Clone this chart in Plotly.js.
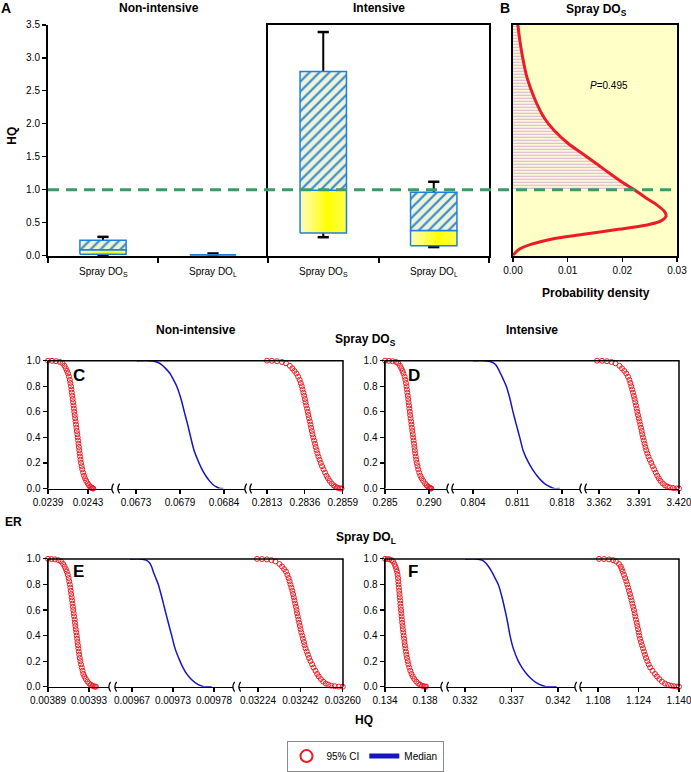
<!DOCTYPE html>
<html><head><meta charset="utf-8">
<script src="https://cdn.plot.ly/plotly-3.0.1.min.js"></script>
<style>html,body{margin:0;padding:0;background:#fff}#chart{width:691px;height:772px}</style>
</head><body><div id="chart"></div>
<script>
// ---------------- Panel A : HQ box plots ----------------
const boxLabels = ['Spray DO<sub>S</sub>', 'Spray DO<sub>L</sub>'];
const nonIntMin = [0.01, 0.006];
const nonIntQ1  = [0.02, 0.008];
const nonIntMed = [0.09, 0.015];
const nonIntQ3  = [0.235, 0.026];
const nonIntMax = [0.285, 0.033];
const intMin = [0.28, 0.13];
const intQ1  = [0.345, 0.15];
const intMed = [0.99, 0.38];
const intQ3  = [2.79, 0.96];
const intMax = [3.39, 1.12];
const hqThreshold = 1.0;

// ---------------- Panel B : probability density of HQ (Spray DOs, intensive) ----------------
const densHQ = [0, 0.025, 0.10, 0.175, 0.25, 0.32, 0.40, 0.46, 0.52, 0.60, 0.67, 0.77, 0.87, 1.0, 1.10, 1.30, 1.50, 1.70, 1.90, 2.09, 2.39, 2.69, 2.99, 3.29, 3.5];
const densPD = [0, 0.0002, 0.0012, 0.0034, 0.0070, 0.0126, 0.0193, 0.0242, 0.0269, 0.0280, 0.0277, 0.0263, 0.0244, 0.0222, 0.0202, 0.0168, 0.0135, 0.0101, 0.0075, 0.0057, 0.0039, 0.0026, 0.0018, 0.0012, 0.0009];
const pText = '<i>P</i>=0.495';

// ---------------- Panels C-F : exceedance risk curves ----------------
const erCI = [1, 0.999, 0.996, 0.99, 0.98, 0.96, 0.94, 0.92, 0.9, 0.875, 0.85, 0.825, 0.8, 0.775, 0.75, 0.725, 0.7, 0.675, 0.65, 0.625, 0.6, 0.575, 0.55, 0.525, 0.5, 0.475, 0.45, 0.425, 0.4, 0.375, 0.35, 0.325, 0.3, 0.275, 0.25, 0.225, 0.2, 0.175, 0.15, 0.125, 0.1, 0.08, 0.06, 0.04, 0.025, 0.015, 0.008, 0.004, 0.001, 0];
const erMed = [1, 1, 0.99, 0.97, 0.94, 0.9, 0.85, 0.8, 0.7, 0.6, 0.5, 0.4, 0.3, 0.2, 0.15, 0.1, 0.06, 0.03, 0.01, 0, 0];

const cLowCI = [0.023900,0.023940,0.023980,0.024020,0.024045,0.024065,0.024078,0.024090,0.024100,0.024110,
 0.024118,0.024124,0.024130,0.024134,0.024138,0.024143,0.024147,0.024151,0.024155,0.024159,
 0.024163,0.024167,0.024171,0.024176,0.024180,0.024184,0.024188,0.024193,0.024197,0.024201,
 0.024205,0.024209,0.024213,0.024217,0.024221,0.024225,0.024230,0.024236,0.024243,0.024251,
 0.024260,0.024270,0.024282,0.024297,0.024310,0.024322,0.024332,0.024340,0.024348,0.024353];
const cMedian = [0.067309,0.067475,0.067559,0.067619,0.067669,0.067725,0.067769,0.067809,0.067863,0.067904,0.067946,0.067984,0.068025,0.068088,0.068125,0.068171,0.068219,0.068263,0.068313,0.068350,0.068391];
const cUpCI = [0.28130,0.28160,0.28191,0.28221,0.28245,0.28269,0.28284,0.28296,0.28309,0.28319,
 0.28328,0.28335,0.28341,0.28346,0.28351,0.28356,0.28360,0.28364,0.28368,0.28373,
 0.28377,0.28381,0.28385,0.28390,0.28394,0.28398,0.28402,0.28406,0.28411,0.28416,
 0.28421,0.28425,0.28431,0.28436,0.28442,0.28449,0.28456,0.28464,0.28473,0.28482,
 0.28491,0.28500,0.28510,0.28522,0.28534,0.28545,0.28554,0.28563,0.28574,0.28582];

const dLowCI = [0.28500,0.28545,0.28585,0.28625,0.28650,0.28670,0.28685,0.28699,0.28710,0.28722,
 0.28731,0.28738,0.28744,0.28749,0.28753,0.28759,0.28764,0.28768,0.28773,0.28777,
 0.28782,0.28786,0.28791,0.28797,0.28801,0.28806,0.28810,0.28816,0.28820,0.28825,
 0.28830,0.28834,0.28839,0.28843,0.28849,0.28855,0.28861,0.28869,0.28878,0.28889,
 0.28901,0.28916,0.28934,0.28955,0.28973,0.28989,0.29002,0.29011,0.29020,0.29026];
const dMedian = [0.80400,0.80589,0.80691,0.80754,0.80793,0.80833,0.80880,0.80924,0.80982,0.81029,0.81081,0.81135,0.81187,0.81276,0.81336,0.81407,0.81478,0.81548,0.81627,0.81674,0.81764];
const dUpCI = [3.36055,3.36418,3.36780,3.37106,3.37396,3.37686,3.37868,3.38034,3.38179,3.38303,
 3.38404,3.38477,3.38542,3.38607,3.38665,3.38723,3.38781,3.38832,3.38883,3.38933,
 3.38977,3.39028,3.39078,3.39136,3.39194,3.39245,3.39296,3.39339,3.39390,3.39448,
 3.39506,3.39564,3.39629,3.39702,3.39782,3.39883,3.39992,3.40093,3.40202,3.40311,
 3.40427,3.40536,3.40659,3.40826,3.40985,3.41166,3.41348,3.41565,3.41819,3.42000];

const eLowCI = [0.0038900,0.0038934,0.0038968,0.0039002,0.0039027,0.0039048,0.0039062,0.0039074,0.0039083,0.0039093,
 0.0039101,0.0039107,0.0039113,0.0039118,0.0039122,0.0039127,0.0039131,0.0039135,0.0039139,0.0039143,
 0.0039147,0.0039151,0.0039155,0.0039160,0.0039163,0.0039167,0.0039171,0.0039176,0.0039180,0.0039184,
 0.0039188,0.0039192,0.0039196,0.0039200,0.0039205,0.0039210,0.0039216,0.0039222,0.0039229,0.0039237,
 0.0039244,0.0039255,0.0039269,0.0039285,0.0039302,0.0039318,0.0039331,0.0039344,0.0039357,0.0039368];
const eMedian = [0.0096673,0.0096814,0.0096888,0.0096935,0.0096962,0.0096986,0.0097019,0.0097053,0.0097100,0.0097143,0.0097187,0.0097233,0.0097277,0.0097344,0.0097384,0.0097434,0.0097491,0.0097552,0.0097612,0.0097666,0.0097769];
const eUpCI = [0.032236,0.032257,0.032278,0.032297,0.032314,0.032331,0.032342,0.032351,0.032359,0.032365,
 0.032370,0.032374,0.032378,0.032382,0.032386,0.032389,0.032392,0.032395,0.032398,0.032401,
 0.032404,0.032406,0.032409,0.032412,0.032415,0.032418,0.032421,0.032424,0.032428,0.032431,
 0.032435,0.032438,0.032442,0.032447,0.032452,0.032457,0.032463,0.032470,0.032476,0.032484,
 0.032491,0.032498,0.032507,0.032517,0.032528,0.032539,0.032551,0.032566,0.032583,0.032600];

const fLowCI = [0.13400,0.13425,0.13445,0.13465,0.13480,0.13495,0.13505,0.13513,0.13520,0.13526,
 0.13530,0.13533,0.13536,0.13539,0.13542,0.13545,0.13548,0.13551,0.13554,0.13557,
 0.13560,0.13563,0.13566,0.13569,0.13572,0.13576,0.13579,0.13583,0.13587,0.13591,
 0.13595,0.13599,0.13604,0.13609,0.13614,0.13620,0.13627,0.13634,0.13643,0.13653,
 0.13665,0.13678,0.13693,0.13713,0.13733,0.13752,0.13770,0.13785,0.13800,0.13810];
const fMedian = [0.33200,0.33318,0.33383,0.33420,0.33453,0.33487,0.33523,0.33558,0.33598,0.33630,0.33659,0.33684,0.33719,0.33773,0.33813,0.33863,0.33915,0.33969,0.34028,0.34071,0.34186];
const fUpCI = [1.10840,1.11037,1.11235,1.11393,1.11511,1.11630,1.11701,1.11740,1.11776,1.11827,
 1.11874,1.11918,1.11957,1.11993,1.12028,1.12064,1.12096,1.12127,1.12159,1.12190,
 1.12222,1.12250,1.12277,1.12301,1.12329,1.12356,1.12384,1.12408,1.12431,1.12463,
 1.12499,1.12538,1.12578,1.12617,1.12657,1.12700,1.12747,1.12803,1.12862,1.12953,
 1.13052,1.13131,1.13221,1.13328,1.13447,1.13565,1.13684,1.13802,1.13921,1.14000];

// tick values / labels for the broken x axes
const cTickVals = [[0.0239, 0.0243], [0.0673, 0.06785, 0.0684], [0.2813, 0.2836, 0.2859]];
const cTickText = [['0.0239', '0.0243'], ['0.0673', '0.0679', '0.0684'], ['0.2813', '0.2836', '0.2859']];
const dTickVals = [[0.285, 0.290], [0.804, 0.811, 0.818], [3.362, 3.391, 3.420]];
const dTickText = [['0.285', '0.290'], ['0.804', '0.811', '0.818'], ['3.362', '3.391', '3.420']];
const eTickVals = [[0.00389, 0.00393], [0.00967, 0.009725, 0.00978], [0.03224, 0.03242, 0.03260]];
const eTickText = [['0.00389', '0.00393'], ['0.00967', '0.00973', '0.00978'], ['0.03224', '0.03242', '0.03260']];
const fTickVals = [[0.134, 0.138], [0.332, 0.337, 0.342], [1.108, 1.124, 1.140]];
const fTickText = [['0.134', '0.138'], ['0.332', '0.337', '0.342'], ['1.108', '1.124', '1.140']];

// ---------------- drawing ----------------
const W = 691, H = 772;
const fx = v => v / W, fy = v => 1 - v / H;
const FONT = "Arial, 'Liberation Sans', sans-serif";
const RED = 'rgb(236,28,36)', BLUE_LINE = 'rgb(22,22,190)', BOX_BLUE = '#1f7fe0';
const data = [], shapes = [], annotations = [];
const layout = {
  width: W, height: H, margin: {l: 0, r: 0, t: 0, b: 0},
  paper_bgcolor: '#fff', plot_bgcolor: 'rgba(0,0,0,0)',
  font: {family: FONT, size: 10, color: '#000'},
  showlegend: true,
  legend: {orientation: 'h', x: fx(365), y: fy(763), xanchor: 'center', yanchor: 'middle',
    bordercolor: '#8a8a8a', borderwidth: 1, bgcolor: '#fff', font: {size: 10}, itemsizing: 'constant'},
};

// Panel A axes: ticks on category boundaries, labels at the box centres
const yA = {range: [0, 3.5], dtick: 0.5, tick0: 0, tickformat: '.1f', showgrid: false, zeroline: false,
  showline: true, linecolor: '#000', linewidth: 2, ticks: 'outside', ticklen: 4, tickwidth: 1.5, tickcolor: '#000',
  domain: [fy(258), fy(25)], tickfont: {size: 10}};
const xA = {range: [0, 2], tickvals: [0, 1, 2], ticks: 'outside', ticklen: 5, tickwidth: 2, tickcolor: '#000',
  showticklabels: false, showgrid: false, zeroline: false, showline: true, linecolor: '#000', linewidth: 2};
layout.xaxis = Object.assign({}, xA, {domain: [fx(48), fx(268)], anchor: 'y'});
layout.yaxis = Object.assign({}, yA, {anchor: 'x'});
layout.xaxis2 = Object.assign({}, xA, {domain: [fx(268), fx(489)], anchor: 'y2', mirror: true});
layout.yaxis2 = Object.assign({}, yA, {anchor: 'x2', mirror: true, showticklabels: false, ticks: ''});

function addBoxes(xa, ya, mins, q1, med, q3, maxs) {
  const pos = [0.5, 1.5], hw = 0.21;
  const wx = [], wy = [], cx = [], cy = [];
  pos.forEach((p, i) => {
    wx.push(p, p, null, p, p, null); wy.push(q3[i], maxs[i], null, q1[i], mins[i], null);
    cx.push(p, p); cy.push(maxs[i], mins[i]);
    annotations.push({text: boxLabels[i], x: p, xref: xa, y: fy(274), yref: 'paper', showarrow: false,
      xanchor: 'center', yanchor: 'middle', font: {size: 10}});
  });
  data.push({type: 'scatter', mode: 'lines', x: wx, y: wy, xaxis: xa, yaxis: ya,
    line: {color: '#000', width: 2}, showlegend: false, hoverinfo: 'skip'});
  data.push({type: 'scatter', mode: 'markers', x: cx, y: cy, xaxis: xa, yaxis: ya, cliponaxis: false,
    marker: {symbol: 'line-ew', size: 8, color: '#000', line: {color: '#000', width: 2.5}}, showlegend: false, hoverinfo: 'skip'});
  pos.forEach((p, i) => {
    data.push({type: 'scatter', mode: 'lines', xaxis: xa, yaxis: ya, showlegend: false, hoverinfo: 'skip',
      x: [p - hw, p + hw, p + hw, p - hw, p - hw], y: [q1[i], q1[i], med[i], med[i], q1[i]],
      fill: 'toself', fillcolor: '#ffff30',
      fillgradient: {type: 'horizontal', colorscale: [[0, '#fbfbc0'], [0.3, '#ffff60'], [0.6, '#ffff00'], [1, '#ffff50']]},
      line: {color: BOX_BLUE, width: 1.5}});
    data.push({type: 'scatter', mode: 'lines', xaxis: xa, yaxis: ya, showlegend: false, hoverinfo: 'skip',
      x: [p - hw, p + hw, p + hw, p - hw, p - hw], y: [med[i], med[i], q3[i], q3[i], med[i]],
      fill: 'toself', fillcolor: '#eef4dc',
      fillpattern: {shape: '/', fgcolor: '#3b8cc8', bgcolor: '#eef4dc', size: 7, solidity: 0.32},
      line: {color: BOX_BLUE, width: 1.5}});
  });
}
addBoxes('x', 'y', nonIntMin, nonIntQ1, nonIntMed, nonIntQ3, nonIntMax);
addBoxes('x2', 'y2', intMin, intQ1, intMed, intQ3, intMax);

// Panel B
layout.xaxis3 = {domain: [fx(513), fx(677)], anchor: 'y3', range: [0, 0.03], tickvals: [0, 0.01, 0.02, 0.03],
  tickformat: '.2f', ticks: 'outside', ticklen: 4, tickwidth: 1.5, tickcolor: '#000', showgrid: false, zeroline: false,
  showline: true, mirror: true, linecolor: '#000', linewidth: 2, tickfont: {size: 10}, ticklabeloverflow: 'allow'};
layout.yaxis3 = {domain: [fy(258), fy(25)], anchor: 'x3', range: [0, 3.5], showgrid: false, zeroline: false,
  showline: true, mirror: true, linecolor: '#000', linewidth: 2, showticklabels: false, ticks: ''};
shapes.push({type: 'rect', xref: 'x3 domain', yref: 'y3 domain', x0: 0, x1: 1, y0: 0, y1: 1,
  fillcolor: '#ffffc8', line: {width: 0}, layer: 'below'});
const hatchHQ = [], hatchPD = [];
densHQ.forEach((h, i) => { if (h >= hqThreshold) { hatchHQ.push(h); hatchPD.push(densPD[i]); } });
data.push({type: 'scatter', mode: 'lines', x: hatchPD, y: hatchHQ, xaxis: 'x3', yaxis: 'y3', fill: 'tozerox',
  fillcolor: 'rgba(0,0,0,0)', fillpattern: {shape: '-', fgcolor: '#d2aad0', bgcolor: 'rgba(250,240,240,0.45)', size: 3, solidity: 0.3},
  line: {width: 0, shape: 'spline', smoothing: 0.8}, showlegend: false, hoverinfo: 'skip'});
data.push({type: 'scatter', mode: 'lines', x: densPD, y: densHQ, xaxis: 'x3', yaxis: 'y3', cliponaxis: false,
  line: {color: RED, width: 3, shape: 'spline', smoothing: 0.8}, showlegend: false, hoverinfo: 'skip'});

// threshold line HQ = 1
shapes.push({type: 'line', xref: 'paper', yref: 'y', x0: fx(48), x1: fx(674), y0: hqThreshold, y1: hqThreshold,
  line: {color: '#3a9a68', width: 3, dash: '11px,7px'}, layer: 'above'});

// Panels C-F
const panels = [
  {letter: 'C', lp: [79, 379], yId: 4, xIds: [4, 5, 6], top: 364, bot: 493,
   segs: [[48, 112], [118, 245], [250, 343]], ranges: [[0.0239, 0.02454], [0.067075, 0.0686625], [0.280271, 0.28591]],
   tv: cTickVals, tt: cTickText, low: cLowCI, med: cMedian, up: cUpCI},
  {letter: 'D', lp: [414, 379], yId: 5, xIds: [7, 8, 9], top: 364, bot: 493,
   segs: [[385, 447], [452, 580], [585, 679]], ranges: [[0.285, 0.292045], [0.800697, 0.82083], [3.35185, 3.42001]],
   tv: dTickVals, tt: dTickText, low: dLowCI, med: dMedian, up: dUpCI},
  {letter: 'E', lp: [78, 577], yId: 6, xIds: [10, 11, 12], top: 564, bot: 693,
   segs: [[48, 109], [115, 233], [239, 343]], ranges: [[0.00389, 0.0039495], [0.0096472, 0.0098055], [0.0321595, 0.032601]],
   tv: eTickVals, tt: eTickText, low: eLowCI, med: eMedian, up: eUpCI},
  {letter: 'F', lp: [413, 577], yId: 7, xIds: [13, 14, 15], top: 564, bot: 693,
   segs: [[385, 441], [447, 575], [580, 679]], ranges: [[0.134, 0.1396], [0.330065, 0.343825], [1.10089, 1.14001]],
   tv: fTickVals, tt: fTickText, low: fLowCI, med: fMedian, up: fUpCI},
];
panels.forEach((P, k) => {
  const yName = 'yaxis' + P.yId;
  layout[yName] = {domain: [fy(P.bot), fy(P.top)], anchor: 'x' + P.xIds[0], range: [0, 1],
    tickvals: [0, 0.2, 0.4, 0.6, 0.8, 1.0], tickformat: '.1f', ticks: 'outside', ticklen: 4, tickwidth: 1.2,
    tickcolor: '#000', showline: true, linecolor: '#000', linewidth: 1.5, showgrid: false, zeroline: false, tickfont: {size: 10}};
  P.xIds.forEach((xi, s) => {
    layout['xaxis' + xi] = {domain: [fx(P.segs[s][0]), fx(P.segs[s][1])], anchor: 'y' + P.yId, range: P.ranges[s],
      tickvals: P.tv[s], ticktext: P.tt[s], ticks: 'outside', ticklen: 4, tickwidth: 1.2, tickcolor: '#000',
      showline: true, linecolor: '#000', linewidth: 1.5, showgrid: false, zeroline: false, tickfont: {size: 10},
      ticklabeloverflow: 'allow'};
  });
  const ciMarker = {symbol: 'circle-open', size: 5, color: RED, line: {width: 1, color: RED}};
  data.push({type: 'scatter', mode: 'markers', x: P.low, y: erCI, xaxis: 'x' + P.xIds[0], yaxis: 'y' + P.yId,
    marker: ciMarker, cliponaxis: false, name: '95% CI', legendgroup: 'ci', showlegend: k === 0, hoverinfo: 'skip'});
  data.push({type: 'scatter', mode: 'lines', x: P.med, y: erMed, xaxis: 'x' + P.xIds[1], yaxis: 'y' + P.yId,
    line: {color: BLUE_LINE, width: 1.5, shape: 'spline', smoothing: 0.6}, cliponaxis: false,
    name: 'Median', legendgroup: 'med', showlegend: k === 0, hoverinfo: 'skip'});
  data.push({type: 'scatter', mode: 'markers', x: P.up, y: erCI, xaxis: 'x' + P.xIds[2], yaxis: 'y' + P.yId,
    marker: ciMarker, cliponaxis: false, name: '95% CI', legendgroup: 'ci', showlegend: false, hoverinfo: 'skip'});
  // frame (left, top, right)
  const L = P.segs[0][0], R = P.segs[2][1];
  shapes.push({type: 'path', xref: 'paper', yref: 'paper',
    path: `M ${fx(L)},${fy(P.bot)} L ${fx(L)},${fy(P.top)} L ${fx(R)},${fy(P.top)} L ${fx(R)},${fy(P.bot)}`,
    line: {color: '#000', width: 1.5}});
  // axis-break marks
  [[P.segs[0][1], P.segs[1][0]], [P.segs[1][1], P.segs[2][0]]].forEach(g => {
    g.forEach(xb => {
      shapes.push({type: 'path', xref: 'paper', yref: 'paper',
        path: `M ${fx(xb + 1.6)},${fy(P.bot - 5)} Q ${fx(xb - 1.8)},${fy(P.bot)} ${fx(xb + 1.6)},${fy(P.bot + 5)}`,
        line: {color: '#000', width: 1.3}});
    });
  });
  annotations.push({text: '<b>' + P.letter + '</b>', x: fx(P.lp[0]), y: fy(P.lp[1]), xref: 'paper', yref: 'paper',
    showarrow: false, xanchor: 'center', yanchor: 'middle', font: {size: 17}});
});

function ann(text, x, y, size, extra) {
  annotations.push(Object.assign({text: text, x: fx(x), y: fy(y), xref: 'paper', yref: 'paper', showarrow: false,
    xanchor: 'center', yanchor: 'middle', font: {size: size, color: '#000'}}, extra || {}));
}
ann('<b>A</b>', 6, 8, 14);
ann('<b>B</b>', 505, 8, 14);
ann('<b>Non-intensive</b>', 159, 8, 12);
ann('<b>Intensive</b>', 379, 8, 12);
ann('<b>Spray DO<sub>S</sub></b>', 596, 10, 12);
ann('<b>HQ</b>', 12, 137, 12, {textangle: -90});
ann('<b>Probability density</b>', 596, 296, 12);
ann('<b>Non-intensive</b>', 196, 333, 12);
ann('<b>Spray DO<sub>S</sub></b>', 365, 343, 12);
ann('<b>Intensive</b>', 532, 333, 12);
ann('<b>ER</b>', 13, 527, 12);
ann('<b>Spray DO<sub>L</sub></b>', 366, 543, 12);
ann('<b>HQ</b>', 364, 727, 12);
annotations.push({text: pText, x: 0.0176, y: 2.58, xref: 'x3', yref: 'y3', showarrow: false, font: {size: 10}});

layout.shapes = shapes;
layout.annotations = annotations;
Plotly.newPlot('chart', data, layout, {displayModeBar: false, staticPlot: true});
</script>
</body></html>
